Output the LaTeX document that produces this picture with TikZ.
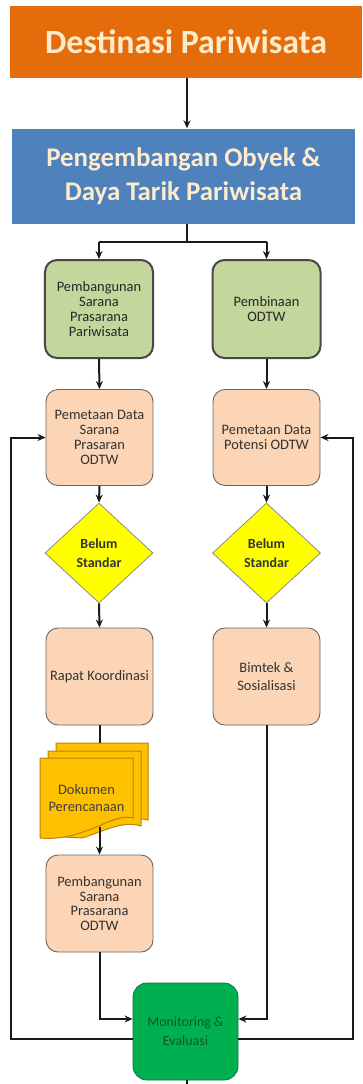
\documentclass[tikz,border=0pt]{standalone}
\usepackage{fontspec}
\setmainfont{Carlito}
\usetikzlibrary{shapes.geometric,arrows.meta}
\definecolor{cOrange}{HTML}{E46C0A}
\definecolor{cBlue}{HTML}{4F81BD}
\definecolor{cCream}{HTML}{FDEBCB}
\definecolor{cLGreen}{HTML}{C3D69B}
\definecolor{cPeach}{HTML}{FBD5B5}
\definecolor{cYellow}{HTML}{FFFF00}
\definecolor{cGold}{HTML}{FFC000}
\definecolor{cGoldD}{HTML}{B8860B}
\definecolor{cGreen}{HTML}{00B050}
\definecolor{cDGreen}{HTML}{0A5A28}
\definecolor{cLine}{HTML}{1A1A1A}
\begin{document}
\begin{tikzpicture}[x=1bp,y=-1bp,
  title/.style={fill=cOrange,text=cCream,font=\bfseries\fontsize{34}{36}\selectfont,inner sep=0},
  band/.style={fill=cBlue,text=cCream,font=\bfseries\fontsize{27}{34}\selectfont,align=center,inner sep=0},
  gbox/.style={rectangle,rounded corners=12bp,fill=cLGreen,draw=cLine!80,line width=2bp,minimum width=108bp,minimum height=98bp,align=center,font=\fontsize{14.5}{15}\selectfont,text=black!85,inner sep=1bp},
  pbox/.style={rectangle,rounded corners=12bp,fill=cPeach,draw=black!60,line width=0.9bp,minimum width=107bp,minimum height=96bp,align=center,font=\fontsize{14.5}{15}\selectfont,text=black!80,inner sep=1bp},
  dbox/.style={diamond,aspect=1.08,fill=cYellow,draw=black!45,line width=0.8bp,minimum width=108bp,minimum height=100bp,align=center,font=\bfseries\fontsize{14}{19}\selectfont,text=black!80,inner sep=0},
  mbox/.style={rectangle,rounded corners=14bp,fill=cGreen,draw=cGreen!70!black,line width=0.8bp,minimum width=105bp,minimum height=97bp,align=center,font=\fontsize{14}{19}\selectfont,text=cDGreen},
  arr/.style={draw=cLine,line width=2bp,-{Stealth[length=8bp,width=7bp]}},
  ln/.style={draw=cLine,line width=2bp}]
\useasboundingbox (0,0) rectangle (362,1084);
\fill[white] (0,0) rectangle (362,1084);
% nodes
\node[title,minimum width=352bp,minimum height=72bp] (dest) at (186,42) {Destinasi Pariwisata};
\node[band,minimum width=343bp,minimum height=95bp] (peng) at (183.5,176) {Pengembangan Obyek \&\\Daya Tarik Pariwisata};
\node[gbox] (g1) at (99,309) {Pembangunan\\Sarana\\Prasarana\\Pariwisata};
\node[gbox] (g2) at (266.5,309) {Pembinaan\\ODTW};
\node[pbox] (p1) at (99.5,437.5) {Pemetaan Data\\Sarana\\Prasaran\\ODTW};
\node[pbox] (p2) at (266.5,437.5) {Pemetaan Data\\Potensi ODTW};
\node[dbox] (d1) at (99,553) {Belum\\Standar};
\node[dbox] (d2) at (266.5,553) {Belum\\Standar};
\node[pbox,minimum height=97bp] (r1) at (99.5,676.5) {Rapat Koordinasi};
\node[pbox,minimum height=97bp,font=\fontsize{14.5}{19}\selectfont] (b2) at (266.5,676.5) {Bimtek \&\\Sosialisasi};
% document stack
\begin{scope}[fill=cGold,draw=cGoldD,line width=1bp]
\filldraw (56,743) -- (148,743) -- (148,820) .. controls (130,815) and (110,826) .. (90,832) -- (56,830) -- cycle;
\filldraw (48,751) -- (141,751) -- (141,826) .. controls (122,820) and (102,832) .. (82,838) -- (48,836) -- cycle;
\filldraw (40,758) -- (133,758) -- (133,818) .. controls (112,812) and (85,842) .. (40,838) -- cycle;
\end{scope}
\node[font=\fontsize{14.5}{18}\selectfont,text=black!75,align=center,inner sep=0] (doc) at (86.5,798) {Dokumen\\Perencanaan};
\coordinate (docTop) at (99.5,743);
\coordinate (docBot) at (99.5,827);
\node[pbox,minimum height=97bp] (p4) at (99.5,903.5) {Pembangunan\\Sarana\\Prasarana\\ODTW};
\node[mbox] (mon) at (185.5,1031.5) {Monitoring \&\\Evaluasi};
% helper coordinates
\coordinate (split) at (0,242);
\coordinate (Min) at (0,1019);
\coordinate (L) at (11,1039);
\coordinate (R) at (353,1039);
% connectors
\draw[arr] (dest.south -| 187,0) -- (peng.north -| 187,0);
\draw[ln] (peng.south -| 187,0) -- (187,242);
\draw[arr] (g1.north |- split) -| (g1.north);
\draw[arr] (g2.north |- split) -| (g2.north);
\draw[ln] (g1.north |- split) -- (g2.north |- split);
\draw[arr] (g1.south) -- (p1.north);
\draw[arr] (g2.south) -- (p2.north);
\draw[arr] (p1.south) -- (d1.north);
\draw[arr] (p2.south) -- (d2.north);
\draw[arr] (d1.south) -- (r1.north);
\draw[arr] (d2.south) -- (b2.north);
\draw[ln] (r1.south) -- (docTop);
\draw[arr] (docBot) -- (p4.north);
\draw[arr] (p4.south) |- (mon.west |- Min);
\draw[arr] (b2.south) |- (mon.east |- Min);
\draw[arr] (mon.west |- L) -- (L) |- (p1.west);
\draw[arr] (mon.east |- R) -- (R) |- (p2.east);
\draw[ln] (mon.south -| 187,0) -- (187,1084);
\end{tikzpicture}
\end{document}
